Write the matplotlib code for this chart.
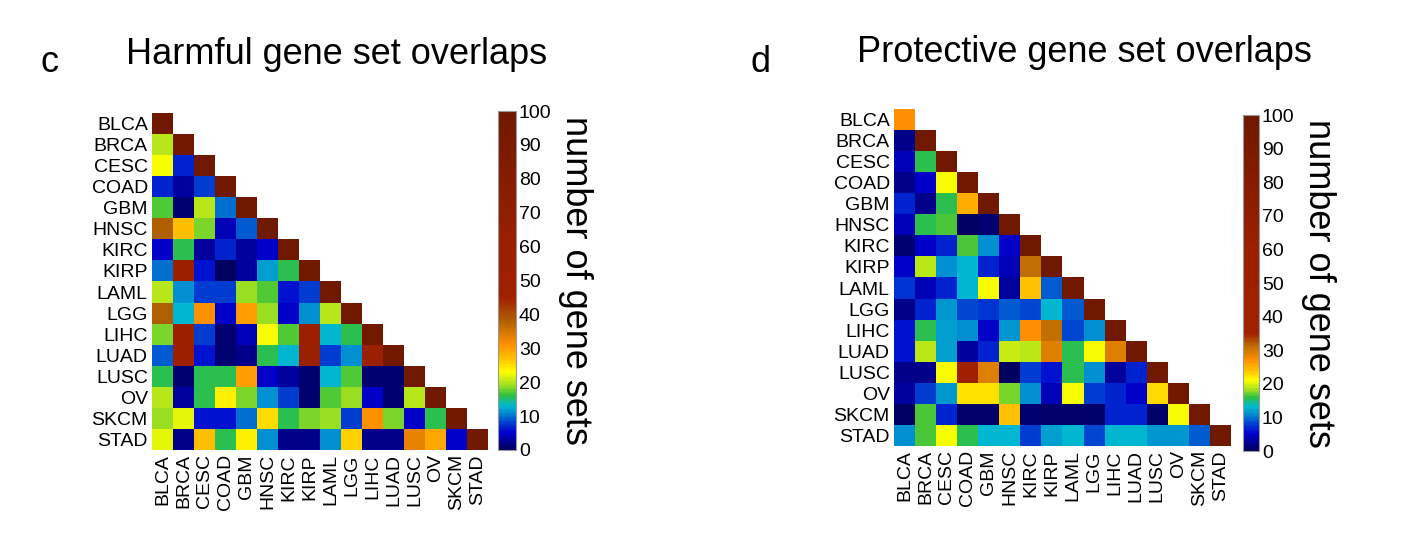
import numpy as np
import matplotlib
matplotlib.use("Agg")
import matplotlib.pyplot as plt
from matplotlib.colors import LinearSegmentedColormap

plt.rcParams['font.family'] = ['Liberation Sans', 'DejaVu Sans']

cancers = ["BLCA", "BRCA", "CESC", "COAD", "GBM", "HNSC", "KIRC", "KIRP",
           "LAML", "LGG", "LIHC", "LUAD", "LUSC", "OV", "SKCM", "STAD"]

# lower triangle rows (including diagonal), number of overlapping gene sets
harmful_rows = [
    [100],
    [20, 100],
    [23, 7, 100],
    [7, 3, 8, 100],
    [17, 1, 20, 10, 100],
    [38, 27, 18, 4, 9, 100],
    [5, 16, 3, 7, 3, 5, 100],
    [10, 55, 6, 0, 3, 12, 16, 100],
    [20, 11, 8, 8, 19, 17, 6, 8, 100],
    [38, 13, 31, 5, 30, 19, 5, 11, 20, 100],
    [18, 55, 8, 1, 4, 23, 17, 55, 13, 16, 100],
    [9, 55, 6, 1, 2, 16, 13, 60, 8, 11, 60, 100],
    [16, 1, 16, 16, 30, 5, 3, 1, 13, 17, 1, 1, 100],
    [20, 3, 16, 24, 18, 11, 8, 1, 17, 19, 5, 1, 20, 100],
    [19, 22, 6, 6, 10, 25, 16, 18, 19, 8, 31, 18, 5, 16, 100],
    [22, 2, 27, 16, 24, 11, 2, 2, 11, 26, 2, 2, 33, 29, 5, 100],
]

protective_rows = [
    [27],
    [2, 100],
    [4, 16, 100],
    [2, 5, 21, 100],
    [7, 2, 16, 25, 100],
    [4, 16, 16.5, 0, 1, 100],
    [1, 5, 7, 16.5, 11, 5, 100],
    [5, 19, 11, 13, 7, 4, 31, 100],
    [7.5, 4, 7, 13, 21, 3, 24, 9, 100],
    [2, 7, 11.5, 8.5, 7.5, 9, 8.5, 13, 9, 100],
    [6, 16, 12, 11, 5, 11.5, 27, 31, 8.5, 11, 100],
    [6, 19, 12, 3, 7, 19.5, 19, 29, 16, 21, 29, 100],
    [2, 2, 21, 40, 29, 0, 8, 6, 16, 11, 3, 7, 100],
    [3, 8, 11.5, 22.5, 22.5, 17.5, 11, 4, 21, 8, 7, 5, 23, 100],
    [0, 16.5, 7, 0.5, 0.5, 24, 1, 0.5, 0.5, 0.5, 7, 7, 0.5, 21, 100],
    [11, 16.5, 21, 16, 13, 13, 8, 12, 13, 8.5, 13, 13, 11.5, 11.5, 9, 100],
]


def tri_matrix(rows):
    n = len(rows)
    m = np.full((n, n), np.nan)
    for i, r in enumerate(rows):
        m[i, :len(r)] = r
    return m


base = ["#000060", "#0000d0", "#0040d0", "#0090d0", "#00b8d0", "#30c040",
        "#a0e020", "#ffff00", "#ffc000", "#ff9000"]
cmap_harm = LinearSegmentedColormap.from_list("harm", list(zip(
    [0, .05, .08, .11, .13, .16, .19, .23, .27, .31, .38, .45, .60, 1.0],
    base + ["#b06000", "#a02000", "#9a2000", "#701800"])))
cmap_prot = LinearSegmentedColormap.from_list("prot", list(zip(
    [0, .05, .08, .11, .13, .16, .18, .21, .24, .27, .31, .35, .60, 1.0],
    base + ["#c07000", "#a02000", "#9a2000", "#701800"])))

W, H = 1428, 538
fig = plt.figure(figsize=(W / 100, H / 100), dpi=100)


def panel(hm_box, cb_box, rows, cmap, title, title_x, title_y, letter, letter_x):
    ax = fig.add_axes([hm_box[0] / W, 1 - hm_box[3] / H,
                       (hm_box[2] - hm_box[0]) / W, (hm_box[3] - hm_box[1]) / H])
    im = ax.imshow(tri_matrix(rows), cmap=cmap, vmin=0, vmax=100,
                   aspect='auto', interpolation='nearest')
    ax.set_xticks(range(len(cancers)))
    ax.set_yticks(range(len(cancers)))
    ax.set_xticklabels(cancers, rotation=90, fontsize=14)
    ax.set_yticklabels(cancers, fontsize=14)
    ax.tick_params(length=0, pad=3)
    for s in ax.spines.values():
        s.set_visible(False)

    cax = fig.add_axes([cb_box[0] / W, 1 - cb_box[3] / H,
                        (cb_box[2] - cb_box[0]) / W, (cb_box[3] - cb_box[1]) / H])
    cb = fig.colorbar(im, cax=cax, ticks=range(0, 101, 10))
    cb.ax.tick_params(length=0, pad=2, labelsize=14)
    cb.outline.set_edgecolor("#999999")
    cb.outline.set_linewidth(0.8)
    cb.set_label("number of gene sets", rotation=270, fontsize=26, labelpad=30)

    fig.text(title_x / W, 1 - title_y / H, title, fontsize=26, ha='center', va='center')
    fig.text(letter_x / W, 1 - 62 / H, letter, fontsize=26, ha='center', va='center')


panel((152, 113, 488, 450), (498, 111, 516, 450), harmful_rows, cmap_harm,
      "Harmful gene set overlaps", 337, 55, "c", 50)
panel((894, 109, 1231, 446), (1243, 115, 1259, 451), protective_rows, cmap_prot,
      "Protective gene set overlaps", 1084, 52, "d", 760)

fig.savefig("out.png", dpi=100)
